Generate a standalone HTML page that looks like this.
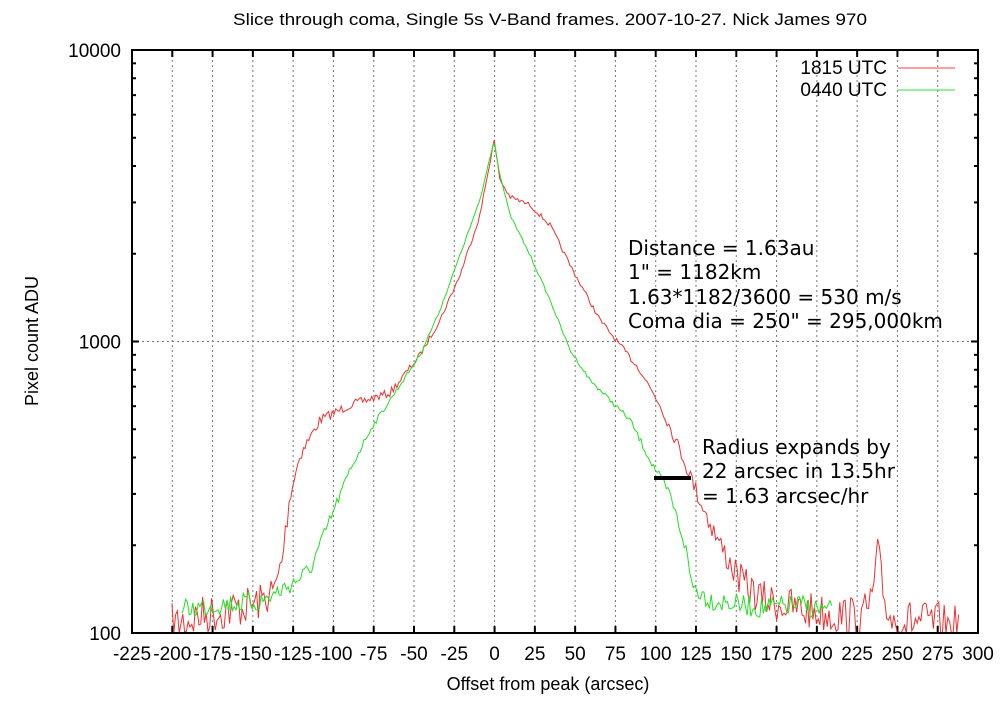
<!DOCTYPE html>
<html><head><meta charset="utf-8"><style>
body{margin:0;background:#fff;}
svg{display:block;font-family:"Liberation Sans",Arial,sans-serif;}
</style></head><body>
<svg id="s" width="1001" height="703" viewBox="0 0 1001 703" xmlns="http://www.w3.org/2000/svg">
<rect width="1001" height="703" fill="#fff"/>
<text x="233" y="25" font-size="17" textLength="634" lengthAdjust="spacingAndGlyphs">Slice through coma, Single 5s V-Band frames. 2007-10-27. Nick James 970</text>
<g id="grid" stroke="#777" stroke-width="1" stroke-dasharray="2,3"></g>
<g id="ticks" stroke="#000" stroke-width="2"></g>
<g id="lab" font-size="19"></g>
<text x="548" y="690" font-size="18" text-anchor="middle">Offset from peak (arcsec)</text>
<text transform="translate(38,341) rotate(-90)" font-size="18" text-anchor="middle">Pixel count ADU</text>
<text x="887" y="74" font-size="19" text-anchor="end">1815 UTC</text>
<text x="887" y="96" font-size="19" text-anchor="end">0440 UTC</text>
<line x1="898" y1="68" x2="955" y2="68" stroke="#f04040" stroke-width="1"/>
<line x1="898" y1="90" x2="955" y2="90" stroke="#30e030" stroke-width="1"/>
<polyline id="red" fill="none" stroke="#f03030" stroke-width="1"/>
<polyline id="green" fill="none" stroke="#20e020" stroke-width="1"/>
<line x1="654" y1="478" x2="691" y2="478" stroke="#000" stroke-width="4"/>
<g font-family="'DejaVu Sans',Verdana,sans-serif" font-size="20">
<text x="628" y="255">Distance = 1.63au</text>
<text x="628" y="279">1" = 1182km</text>
<text x="628" y="304">1.63*1182/3600 = 530 m/s</text>
<text x="628" y="328">Coma dia = 250" = 295,000km</text>
<text x="702" y="454">Radius expands by</text>
<text x="702" y="478">22 arcsec in 13.5hr</text>
<text x="702" y="503">= 1.63 arcsec/hr</text>
</g>
<rect x="132" y="50" width="846" height="583" fill="none" stroke="#000" stroke-width="2"/>
</svg>
<script>
var NS="http://www.w3.org/2000/svg";
function el(p,t,a,txt){var e=document.createElementNS(NS,t);for(var k in a)e.setAttribute(k,a[k]);if(txt!=null)e.textContent=txt;p.appendChild(e);}
var L=132,R=978,T=50,B=633;
function X(v){return L+(v+225)*(R-L)/525;}
function Y(v){return B-(Math.log10(v)-2)*(B-T)/2;}
var g=document.getElementById('grid'),tk=document.getElementById('ticks'),lb=document.getElementById('lab');
for(var v=-225;v<=300;v+=25){var x=X(v);
 if(v>-225&&v<300)el(g,'line',{x1:x,y1:T,x2:x,y2:B});
 el(tk,'line',{x1:x,y1:B,x2:x,y2:B-7});el(tk,'line',{x1:x,y1:T,x2:x,y2:T+7});
 el(lb,'text',{x:x,y:660,'text-anchor':'middle'},String(v));}
el(g,'line',{x1:L,y1:Y(1000),x2:R,y2:Y(1000)});
[100,1000,10000].forEach(function(v){el(lb,'text',{x:121,y:Y(v)+7,'text-anchor':'end'},String(v));});
for(var d=100;d<10000;d*=10)for(var m=1;m<10;m++){var y=Y(d*m);var len=m==1?7:4;
 el(tk,'line',{x1:L,y1:y,x2:L+len,y2:y});el(tk,'line',{x1:R,y1:y,x2:R-len,y2:y});}
var seed=7;function rnd(){seed=(seed*16807)%2147483647;return seed/2147483647-0.5;}
function build(pts,x0,x1,amp){var out=[];
 for(var x=x0;x<=x1;x+=1.8){var i=0;while(i<pts.length-2&&pts[i+1][0]<x)i++;
  var a=pts[i],b=pts[i+1];var t=(x-a[0])/(b[0]-a[0]);var y=a[1]+(b[1]-a[1])*t;
  var n=amp*(0.12+Math.pow(Math.max(0,(y-300))/330,2))*rnd()*2;
  y=Math.min(B,y+n);out.push(x.toFixed(1)+','+y.toFixed(1));}
 return out.join(' ');}
var red=[[172,625],[200,616],[230,610],[260,602],[275,590],[282,560],[290,495],[300,455],[320,420],[350,405],[390,393],[420,355],[440,320],[460,275],[480,215],[494,140],[500,180],[510,197],[530,205],[550,225],[570,265],[600,320],[620,345],[640,370],[660,405],[680,450],[700,500],[720,545],[740,580],[760,598],[800,610],[840,615],[862,618],[872,600],[878,548],[884,600],[892,620],[930,622],[960,628]];
var green=[[182,610],[220,604],[260,602],[290,585],[310,570],[330,520],[350,470],[370,430],[400,385],[420,355],[440,310],[460,255],[480,200],[494,140],[500,175],[510,215],[530,255],[550,300],[570,350],[590,380],[610,400],[630,420],[650,460],[670,495],[685,545],[692,585],[710,600],[760,608],[800,605],[832,612]];
document.getElementById('red').setAttribute('points',build(red,172,960,20));
document.getElementById('green').setAttribute('points',build(green,182,832,11));
</script>
</body></html>
